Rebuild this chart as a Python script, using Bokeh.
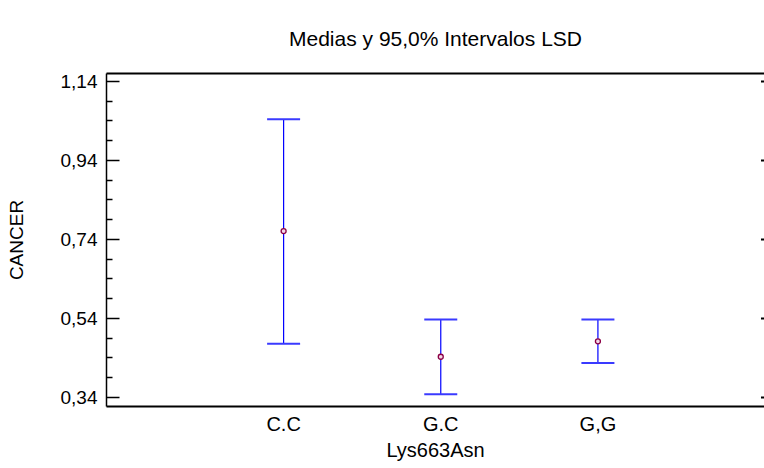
from bokeh.plotting import figure
from bokeh.models import (ColumnDataSource, Whisker, TeeHead, LinearAxis, FixedTicker,
                          CustomJSTickFormatter, Range1d)
from bokeh.embed import file_html
from bokeh.resources import INLINE

# Group means and 95% LSD interval bounds for CANCER by Lys663Asn genotype
categories = ["C.C", "G.C", "G,G"]
means = [0.761, 0.443, 0.482]
lower = [0.476, 0.348, 0.427]
upper = [1.044, 0.537, 0.537]

y_ticks = [0.34, 0.54, 0.74, 0.94, 1.14]
y_minor = [0.39, 0.44, 0.49, 0.59, 0.64, 0.69, 0.79, 0.84, 0.89, 0.99, 1.04, 1.09]

X_START, X_END = -0.127, 4.06
xpos = list(range(1, len(categories) + 1))
src = ColumnDataSource(dict(x=xpos, mean=means, lower=lower, upper=upper))

FONT = "Liberation Sans"

p = figure(width=764, height=468, output_backend="svg", toolbar_location=None,
           x_range=Range1d(X_START, X_END), y_range=Range1d(0.317, 1.16),
           x_axis_location="below", y_axis_location="left")
p.min_border_left = 106
p.min_border_right = 0
p.min_border_top = 72
p.min_border_bottom = 62
p.outline_line_color = None
p.xgrid.visible = False
p.ygrid.visible = False
p.background_fill_color = "white"
p.border_fill_color = "white"

p.title.text = "Medias y 95,0% Intervalos LSD"
p.title.text_font = FONT
p.title.text_font_size = "21px"
p.title.text_font_style = "normal"
p.title.text_color = "black"
p.title.align = "center"
p.title.standoff = 48

# left axis
ya = p.yaxis[0]
ya.ticker = FixedTicker(ticks=y_ticks, minor_ticks=y_minor)
ya.formatter = CustomJSTickFormatter(code="return tick.toFixed(2).replace('.', ',');")
ya.major_tick_in = 13
ya.major_tick_out = 0
ya.minor_tick_in = 6
ya.minor_tick_out = 0
ya.axis_line_width = 1.5
ya.major_tick_line_width = 1.5
ya.minor_tick_line_width = 1.5
ya.major_label_standoff = 9
ya.major_label_text_font = FONT
ya.major_label_text_font_size = "19px"
ya.major_label_text_color = "black"
ya.axis_label = "CANCER"
ya.axis_label_text_font = FONT
ya.axis_label_text_font_size = "19px"
ya.axis_label_text_font_style = "normal"
ya.axis_label_text_color = "black"
ya.axis_label_standoff = 31

# bottom axis with category labels
xa = p.xaxis[0]
xa.ticker = FixedTicker(ticks=xpos, minor_ticks=[])
xa.major_label_overrides = {i: c for i, c in zip(xpos, categories)}
xa.major_tick_in = 0
xa.major_tick_out = 0
xa.minor_tick_in = 0
xa.minor_tick_out = 0
xa.axis_line_width = 2
xa.major_label_standoff = 6
xa.major_label_text_font = FONT
xa.major_label_text_font_size = "20px"
xa.major_label_text_color = "black"
xa.axis_label = "Lys663Asn"
xa.axis_label_text_font = FONT
xa.axis_label_text_font_size = "20px"
xa.axis_label_text_font_style = "normal"
xa.axis_label_text_color = "black"
xa.axis_label_standoff = 1

# top border line
top = LinearAxis(ticker=FixedTicker(ticks=[]), major_tick_in=0, major_tick_out=0,
                 minor_tick_in=0, minor_tick_out=0,
                 major_label_standoff=0, axis_label_standoff=0, axis_line_width=2)
p.add_layout(top, "above")

# short inward ticks on the open right edge, at the major tick values
p.scatter(x=[X_END] * len(y_ticks), y=y_ticks, marker="dash", size=7,
          line_color="black", line_width=2)

# LSD intervals
whisk = Whisker(source=src, base="x", upper="upper", lower="lower", dimension="height",
                line_color="#0000ff", line_width=1.2,
                upper_head=TeeHead(size=33, line_color="#3a3aff", line_width=2),
                lower_head=TeeHead(size=33, line_color="#3a3aff", line_width=2))
p.add_layout(whisk)

# group means
p.scatter("x", "mean", source=src, marker="circle", size=5,
          line_color="#8b0045", line_width=1.3, fill_color="#f3d6e6")

open("out.html", "w").write(file_html(p, INLINE))
